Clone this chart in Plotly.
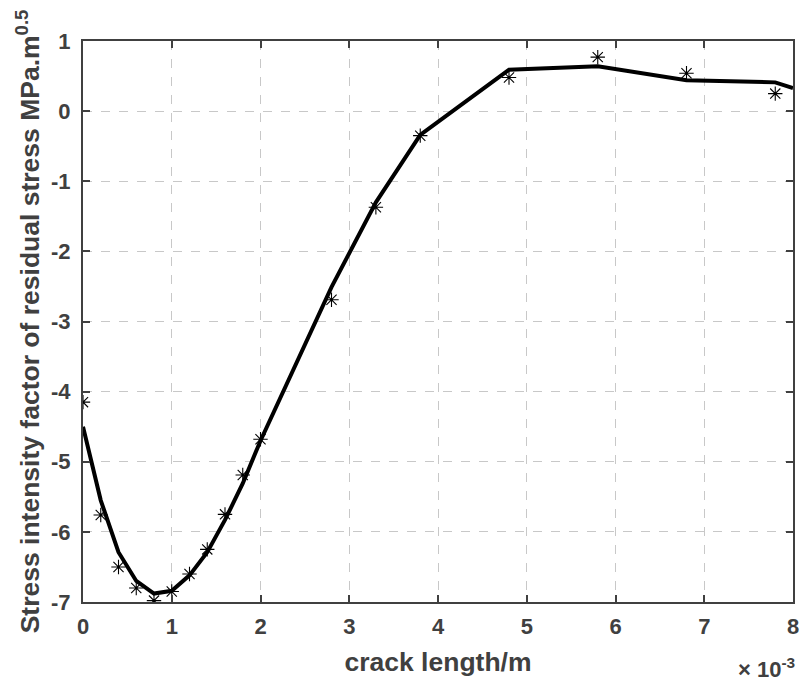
import plotly.graph_objects as go

# line (fitted curve) vertices, x in units of 1e-3 m
line_x = [0, 0.2, 0.4, 0.6, 0.8, 1.0, 1.2, 1.4, 1.6, 1.8, 2.0, 2.8, 3.3, 3.8, 4.8, 5.8, 6.8, 7.8, 8.0]
line_y = [-4.50, -5.55, -6.29, -6.70, -6.88, -6.84, -6.62, -6.29, -5.83, -5.31, -4.70, -2.51, -1.30, -0.34, 0.59, 0.64, 0.44, 0.41, 0.33]

# scattered markers
pt_x = [0, 0.2, 0.4, 0.6, 0.8, 1.0, 1.2, 1.4, 1.6, 1.8, 2.0, 2.8, 3.3, 3.8, 4.8, 5.8, 6.8, 7.8]
pt_y = [-4.15, -5.76, -6.50, -6.80, -6.98, -6.85, -6.60, -6.25, -5.75, -5.19, -4.68, -2.69, -1.37, -0.35, 0.48, 0.77, 0.54, 0.25]

x_ticks = [0, 1, 2, 3, 4, 5, 6, 7, 8]
y_ticks = [1, 0, -1, -2, -3, -4, -5, -6, -7]

font_fam = "Liberation Sans, Arial, sans-serif"
axcol = "#404040"
txtcol = "#404040"
tick_font = dict(family=font_fam, size=22, color=txtcol, weight="bold")
title_font = dict(family=font_fam, size=26.5, color=txtcol, weight="bold")

fig = go.Figure()
fig.add_trace(go.Scatter(x=line_x, y=line_y, mode="lines",
                         line=dict(color="black", width=4), showlegend=False))
fig.add_trace(go.Scatter(x=pt_x, y=pt_y, mode="markers",
                         marker=dict(symbol="asterisk-open", size=12, color="black",
                                     line=dict(color="black", width=1.1)),
                         showlegend=False))

axis_common = dict(
    showline=True, linecolor=axcol, linewidth=2, mirror="ticks",
    ticks="inside", ticklen=7, tickwidth=2, tickcolor=axcol,
    showgrid=True, gridcolor="#c8c8c8", griddash="dash", gridwidth=1,
    zeroline=False,
)

fig.update_xaxes(range=[0, 8], tickmode="array", tickvals=x_ticks,
                 ticktext=[str(v) for v in x_ticks], tickfont=tick_font,
                 ticklabelstandoff=4,
                 title=dict(text="crack length/m", standoff=14, font=title_font),
                 **axis_common)
fig.update_yaxes(range=[-7, 1], tickmode="array", tickvals=y_ticks,
                 ticktext=[str(v) for v in y_ticks], tickfont=tick_font,
                 ticklabelstandoff=6,
                 title=dict(text="Stress intensity factor of residual stress MPa.m<sup>0.5</sup>",
                            standoff=4, font=title_font),
                 **axis_common)

fig.add_annotation(x=1, y=0, xref="paper", yref="paper", xanchor="right", yanchor="top",
                   yshift=-50, xshift=4, showarrow=False,
                   text="\u00d7 10<sup>-3</sup>",
                   font=dict(family=font_fam, size=22, color=txtcol, weight="bold"))

fig.update_layout(
    width=806, height=682,
    margin=dict(l=83, r=7, t=41, b=80),
    plot_bgcolor="white", paper_bgcolor="white",
)

fig.write_html("out.html")
